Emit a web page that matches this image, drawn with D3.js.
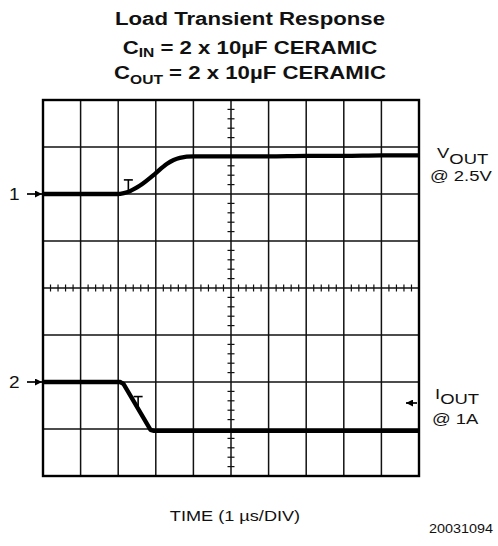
<!DOCTYPE html>
<html>
<head>
<meta charset="utf-8">
<script src="https://cdn.jsdelivr.net/npm/d3@7"></script>
<style>
  html, body { margin: 0; padding: 0; background: #fff; }
  svg { display: block; }
  text { font-family: "Liberation Sans", Arial, Helvetica, sans-serif; fill: #111; }
</style>
</head>
<body>
<svg id="chart" width="498" height="546"></svg>
<script>
// ---- data (time in µs = divisions, levels in vertical divisions from screen centre) ----
const xDivisions = [0, 1, 2, 3, 4, 5, 6, 7, 8, 9, 10];
const yDivisions = [-4, -3, -2, -1, 0, 1, 2, 3, 4];

const voutTime  = [0, 1.98, 2.15, 2.31, 2.58, 2.98, 3.29, 3.64, 4.0, 5, 6, 7, 8, 9, 10];
const voutLevel = [2.0, 2.0, 2.02, 2.06, 2.18, 2.43, 2.64, 2.77, 2.80, 2.80, 2.80, 2.81, 2.81, 2.82, 2.82];

const ioutTime  = [0, 2.05, 2.14, 2.86, 2.95, 10];
const ioutLevel = [-2.0, -2.0, -2.04, -3.02, -3.04, -3.04];

const channelRef   = [{label: "1", level: 2}, {label: "2", level: -2}];
const triggerMarks = [{t: 2.27, level: 2.30}, {t: 2.53, level: -2.31}];

const titleLines = ["Load Transient Response", "C|IN| = 2 x 10µF CERAMIC", "C|OUT| = 2 x 10µF CERAMIC"];
const xAxisLabel = "TIME (1 µs/DIV)";
const figureId = "20031094";

// ---- drawing ----
const svg = d3.select("#chart");
const x = d3.scaleLinear().domain([0, 10]).range([43, 419]);
const y = d3.scaleLinear().domain([-4, 4]).range([476, 100]);
const SX = 1.19; // horizontal stretch of text in reference

// grid
const grid = svg.append("g");
grid.selectAll("line.v").data(xDivisions.slice(1, -1)).join("line")
  .attr("x1", d => x(d)).attr("x2", d => x(d))
  .attr("y1", y(4)).attr("y2", y(-4))
  .attr("stroke", "#111").attr("stroke-width", 1.5);
grid.selectAll("line.h").data(yDivisions.slice(1, -1)).join("line")
  .attr("y1", d => y(d)).attr("y2", d => y(d))
  .attr("x1", x(0)).attr("x2", x(10))
  .attr("stroke", "#111").attr("stroke-width", 1.5);
grid.append("rect")
  .attr("x", x(0)).attr("y", y(4))
  .attr("width", x(10) - x(0)).attr("height", y(-4) - y(4))
  .attr("fill", "none").attr("stroke", "#000").attr("stroke-width", 2.4);

// minor ticks on centre lines
const minorX = d3.range(0, 10.001, 0.2).filter(v => Math.abs(v - Math.round(v)) > 1e-6);
const minorY = d3.range(-4, 4.001, 0.2).filter(v => Math.abs(v - Math.round(v)) > 1e-6);
grid.selectAll("line.mx").data(minorX).join("line")
  .attr("x1", d => x(d)).attr("x2", d => x(d))
  .attr("y1", y(0) - 3.5).attr("y2", y(0) + 3.5)
  .attr("stroke", "#111").attr("stroke-width", 1.2);
grid.selectAll("line.my").data(minorY).join("line")
  .attr("y1", d => y(d)).attr("y2", d => y(d))
  .attr("x1", x(5) - 3.5).attr("x2", x(5) + 3.5)
  .attr("stroke", "#111").attr("stroke-width", 1.2);

// traces
const vLine = d3.line().x(d => x(d[0])).y(d => y(d[1])).curve(d3.curveMonotoneX);
svg.append("path")
  .attr("d", vLine(voutTime.map((t, i) => [t, voutLevel[i]])))
  .attr("fill", "none").attr("stroke", "#000").attr("stroke-width", 4.3)
  .attr("stroke-linejoin", "round");
const iLine = d3.line().x(d => x(d[0])).y(d => y(d[1])).curve(d3.curveLinear);
svg.append("path")
  .attr("d", iLine(ioutTime.map((t, i) => [t, ioutLevel[i]])))
  .attr("fill", "none").attr("stroke", "#000").attr("stroke-width", 4.3)
  .attr("stroke-linejoin", "round");

// trigger "T" markers
triggerMarks.forEach(m => {
  const cx = x(m.t), top = y(m.level);
  svg.append("line").attr("x1", cx - 4.5).attr("x2", cx + 4.5).attr("y1", top).attr("y2", top)
    .attr("stroke", "#000").attr("stroke-width", 1.6);
  svg.append("line").attr("x1", cx).attr("x2", cx).attr("y1", top).attr("y2", top + 10)
    .attr("stroke", "#000").attr("stroke-width", 1.6);
});

// channel reference arrows on the left
svg.append("defs").append("marker")
  .attr("id", "ah").attr("viewBox", "0 0 10 10").attr("refX", 10).attr("refY", 5)
  .attr("markerWidth", 7).attr("markerHeight", 7).attr("markerUnits", "userSpaceOnUse")
  .attr("orient", "auto")
  .append("path").attr("d", "M0,0 L10,5 L0,10 Z").attr("fill", "#000");

channelRef.forEach(c => {
  const yy = y(c.level);
  svg.append("line").attr("x1", 27).attr("x2", x(0) - 1).attr("y1", yy).attr("y2", yy)
    .attr("stroke", "#000").attr("stroke-width", 1.7).attr("marker-end", "url(#ah)");
  svg.append("text").attr("transform", `translate(9,${yy + 5.5}) scale(${SX},1)`)
    .attr("font-size", 16).text(c.label);
});

// right-side current arrow
svg.append("line").attr("x1", 417).attr("x2", 406).attr("y1", 403).attr("y2", 403)
  .attr("stroke", "#000").attr("stroke-width", 1.7).attr("marker-end", "url(#ah)");

// right-side labels
function subText(g, main, sub, subDy) {
  g.append("tspan").text(main);
  g.append("tspan").attr("dy", subDy).text(sub);
}
const vLab = svg.append("text").attr("transform", `translate(437,158) scale(${SX},1)`).attr("font-size", 15.5);
subText(vLab, "V", "OUT", 6);
svg.append("text").attr("transform", `translate(430,181) scale(${SX},1)`).attr("font-size", 15.5).text("@ 2.5V");
const iLab = svg.append("text").attr("transform", `translate(435,399) scale(${SX},1)`).attr("font-size", 15.5);
subText(iLab, "I", "OUT", 5);
svg.append("text").attr("transform", `translate(432,424) scale(${SX},1)`).attr("font-size", 15.5).text("@ 1A");

// title
const titleY = [25, 54, 79];
titleLines.forEach((line, i) => {
  const t = svg.append("text")
    .attr("transform", `translate(250,${titleY[i]}) scale(1.2,1)`)
    .attr("text-anchor", "middle").attr("font-size", 18.5).attr("font-weight", "bold");
  const parts = line.split("|");
  if (parts.length === 1) { t.text(line); return; }
  t.append("tspan").text(parts[0]);
  t.append("tspan").attr("font-size", 13).attr("dy", i === 1 ? 3 : 5).text(parts[1]);
  t.append("tspan").attr("dy", i === 1 ? -3 : -5).text(parts[2]);
});

// x-axis caption and figure id
svg.append("text").attr("transform", `translate(235,521) scale(1.17,1)`)
  .attr("text-anchor", "middle").attr("font-size", 15.5).text(xAxisLabel);
svg.append("text").attr("transform", `translate(493,533) scale(1.2,1)`)
  .attr("text-anchor", "end").attr("font-size", 12).text(figureId);
</script>
</body>
</html>
